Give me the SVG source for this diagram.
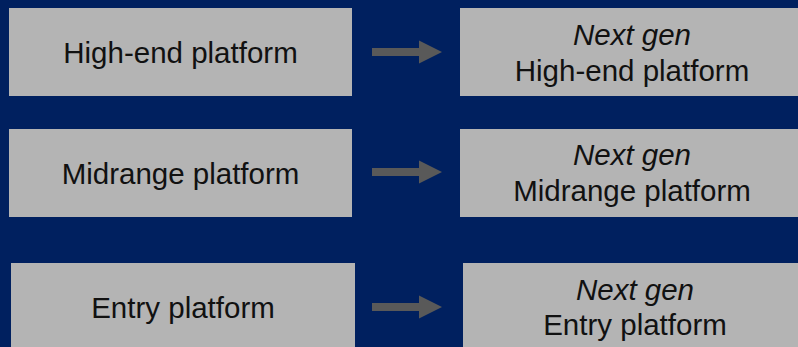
<svg xmlns="http://www.w3.org/2000/svg" width="798" height="347" viewBox="0 0 798 347">
  <style>
    .box { fill: #b4b4b4; }
    .lbl { font-family: "Liberation Sans", Arial, sans-serif; font-size: 29.5px; fill: #111111; text-anchor: middle; }
    .it { font-style: italic; }
    .arrow { fill: #595959; }
  </style>
  <defs>
    <path id="arr" d="M0,-4 L47,-4 L47,-11.5 L70,0 L47,11.5 L47,4 L0,4 Z"/>
  </defs>
  <rect width="798" height="347" fill="#00205f"/>

  <g id="high-end">
    <rect class="box" x="9" y="8" width="343" height="88"/>
    <text class="lbl" x="180.5" y="62.5">High-end platform</text>
  </g>
  <g id="next-high-end">
    <rect class="box" x="460" y="8" width="344" height="88"/>
    <text class="lbl it" x="632" y="45">Next gen</text>
    <text class="lbl" x="632" y="81">High-end platform</text>
  </g>

  <g id="midrange">
    <rect class="box" x="9" y="129" width="343" height="88"/>
    <text class="lbl" x="180.5" y="183.5">Midrange platform</text>
  </g>
  <g id="next-midrange">
    <rect class="box" x="460" y="129" width="344" height="88"/>
    <text class="lbl it" x="632" y="165">Next gen</text>
    <text class="lbl" x="632" y="201">Midrange platform</text>
  </g>

  <g id="entry">
    <rect class="box" x="11" y="263" width="344" height="88"/>
    <text class="lbl" x="183" y="317.5">Entry platform</text>
  </g>
  <g id="next-entry">
    <rect class="box" x="463" y="263" width="344" height="88"/>
    <text class="lbl it" x="635" y="300">Next gen</text>
    <text class="lbl" x="635" y="334.5">Entry platform</text>
  </g>

  <g id="connectors" class="arrow">
    <use href="#arr" x="372" y="52"/>
    <use href="#arr" x="372" y="172"/>
    <use href="#arr" x="372" y="307"/>
  </g>
</svg>
